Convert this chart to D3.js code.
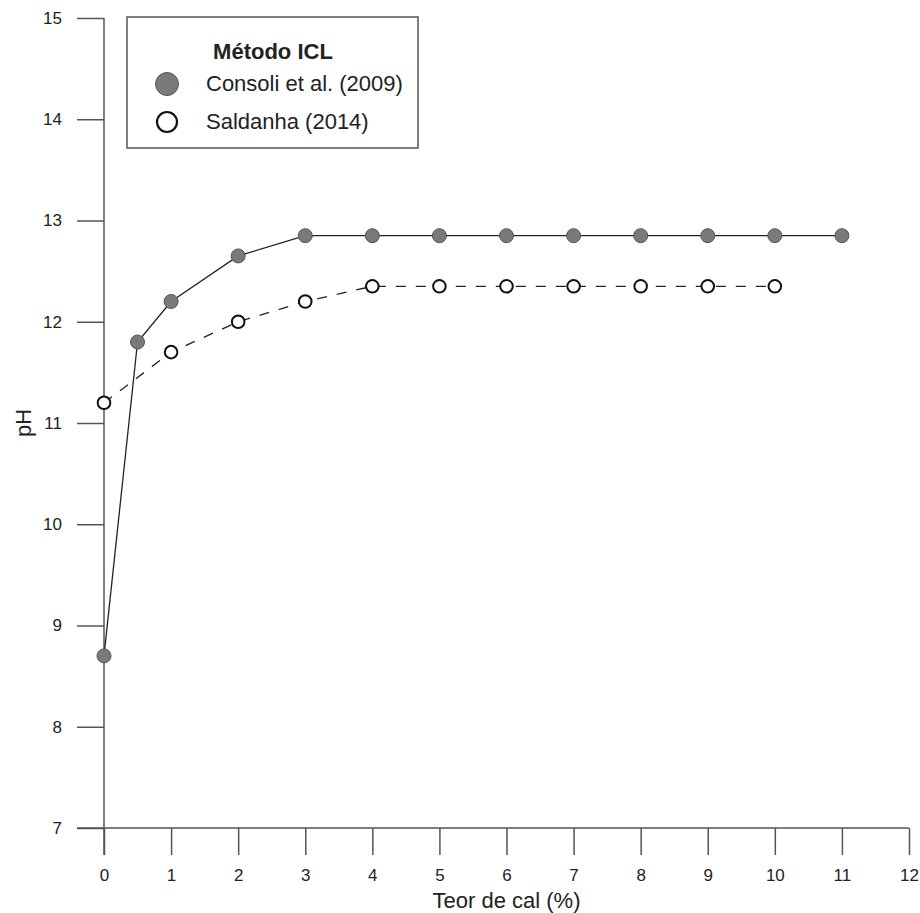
<!DOCTYPE html>
<html>
<head>
<meta charset="utf-8">
<script src="https://cdn.jsdelivr.net/npm/d3@7"></script>
<style>
  body { margin: 0; background: #fff; }
  text { font-family: "Liberation Sans", Arial, sans-serif; fill: #222; }
</style>
</head>
<body>
<svg id="chart" width="920" height="913"></svg>
<script>
// data
var consoliX = [0, 0.5, 1, 2, 3, 4, 5, 6, 7, 8, 9, 10, 11];
var consoliPH = [8.7, 11.8, 12.2, 12.65, 12.85, 12.85, 12.85, 12.85, 12.85, 12.85, 12.85, 12.85, 12.85];
var saldanhaX = [0, 1, 2, 3, 4, 5, 6, 7, 8, 9, 10];
var saldanhaPH = [11.2, 11.7, 12.0, 12.2, 12.35, 12.35, 12.35, 12.35, 12.35, 12.35, 12.35];
var xTicks = d3.range(0, 13);
var yTicks = d3.range(7, 16);

var svg = d3.select("#chart");

var x = d3.scaleLinear().domain([0, 12]).range([104, 909]);
var y = d3.scaleLinear().domain([7, 15]).range([828, 18]);

var axisColor = "#555";

// x axis
var gx = svg.append("g").attr("transform", "translate(0,828)")
  .call(d3.axisBottom(x).tickValues(xTicks).tickSize(27).tickPadding(14).tickSizeOuter(0));
gx.select(".domain").attr("d", "M77,0H" + x(12));
gx.selectAll("line").attr("stroke", axisColor).attr("stroke-width", 1.5);
gx.select(".domain").attr("stroke", axisColor).attr("stroke-width", 1.5);
gx.selectAll("text").attr("font-size", 17).attr("fill", "#222");

// y axis
var gy = svg.append("g").attr("transform", "translate(104,0)")
  .call(d3.axisLeft(y).tickValues(yTicks).tickSize(27).tickPadding(15).tickSizeOuter(0));
gy.select(".domain").attr("d", "M0," + y(15) + "V855");
gy.selectAll("line").attr("stroke", axisColor).attr("stroke-width", 1.5);
gy.select(".domain").attr("stroke", axisColor).attr("stroke-width", 1.5);
gy.selectAll("text").attr("font-size", 17).attr("fill", "#222");

// axis titles
svg.append("text").attr("x", x(6)).attr("y", 908)
  .attr("text-anchor", "middle").attr("font-size", 22).text("Teor de cal (%)");
svg.append("text").attr("transform", "translate(31," + y(11) + ") rotate(-90)")
  .attr("text-anchor", "middle").attr("font-size", 22).text("pH");

var consoli = consoliX.map(function(d, i){ return [d, consoliPH[i]]; });
var saldanha = saldanhaX.map(function(d, i){ return [d, saldanhaPH[i]]; });

var line = d3.line()
  .x(function(d){ return x(d[0]); })
  .y(function(d){ return y(d[1]); });

svg.append("path").datum(consoli).attr("d", line)
  .attr("fill", "none").attr("stroke", "#222").attr("stroke-width", 1.3);
svg.append("path").datum(saldanha).attr("d", line)
  .attr("fill", "none").attr("stroke", "#222").attr("stroke-width", 1.3)
  .attr("stroke-dasharray", "10,10");

svg.append("g").selectAll("circle").data(consoli).join("circle")
  .attr("cx", function(d){ return x(d[0]); })
  .attr("cy", function(d){ return y(d[1]); })
  .attr("r", 7).attr("fill", "#7a7a7a").attr("stroke", "#555").attr("stroke-width", 1);

svg.append("g").selectAll("circle").data(saldanha).join("circle")
  .attr("cx", function(d){ return x(d[0]); })
  .attr("cy", function(d){ return y(d[1]); })
  .attr("r", 6.3).attr("fill", "#fff").attr("stroke", "#111").attr("stroke-width", 2);

// legend
var lg = svg.append("g");
lg.append("rect").attr("x", 127).attr("y", 17).attr("width", 291).attr("height", 131)
  .attr("fill", "#fff").attr("stroke", "#555").attr("stroke-width", 1.5);
lg.append("text").attr("x", 273).attr("y", 59).attr("text-anchor", "middle")
  .attr("font-size", 22).attr("font-weight", "bold").text("Método ICL");
lg.append("circle").attr("cx", 167).attr("cy", 84).attr("r", 11.5)
  .attr("fill", "#7a7a7a").attr("stroke", "#555").attr("stroke-width", 1);
lg.append("text").attr("x", 206).attr("y", 91).attr("font-size", 22).text("Consoli et al. (2009)");
lg.append("circle").attr("cx", 167).attr("cy", 122).attr("r", 10)
  .attr("fill", "#fff").attr("stroke", "#111").attr("stroke-width", 2.2);
lg.append("text").attr("x", 206).attr("y", 129).attr("font-size", 22).text("Saldanha (2014)");
</script>
</body>
</html>
